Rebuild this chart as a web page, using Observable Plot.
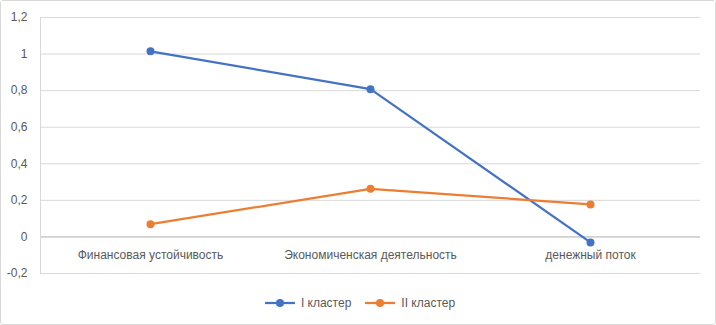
<!DOCTYPE html>
<html>
<head>
<meta charset="utf-8">
<script src="https://cdn.jsdelivr.net/npm/d3@7"></script>
<script src="https://cdn.jsdelivr.net/npm/@observablehq/plot@0.6"></script>
<style>
  html, body { margin: 0; padding: 0; background: #fff; }
  #chart {
    box-sizing: border-box; width: 716px; height: 325px;
    border: 1px solid #d9d9d9; border-radius: 3px; background: #fff;
    font-family: "Liberation Sans", Arial, sans-serif; color: #595959;
  }
  #legend {
    display: flex; justify-content: center; align-items: center;
    gap: 14px; font-size: 12px; color: #595959; height: 40px; margin-left: 4px;
  }
  #legend .item { display: flex; align-items: center; gap: 6px; }
</style>
</head>
<body>
<div id="chart"></div>
<script>
const categories = ["Финансовая устойчивость", "Экономиченская деятельность", "денежный поток"];
const seriesNames = ["I кластер", "II кластер"];
const cluster1 = [1.015, 0.808, -0.03];
const cluster2 = [0.07, 0.263, 0.178];
const colors = ["#4472C4", "#ED7D31"];
const yTicks = [-0.2, 0, 0.2, 0.4, 0.6, 0.8, 1, 1.2];

const data = [];
[cluster1, cluster2].forEach((vals, s) => {
  vals.forEach((v, i) => data.push({series: seriesNames[s], category: categories[i], value: v}));
});

const fmt = v => String(Math.round(v * 10) / 10).replace(".", ",");

const plot = Plot.plot({
  width: 714,
  height: 282,
  marginLeft: 39,
  marginRight: 15,
  marginTop: 16,
  marginBottom: 10,
  style: {fontFamily: "Liberation Sans, Arial, sans-serif", fontSize: "12px", color: "#595959", background: "#fff"},
  x: {type: "point", domain: categories, padding: 0.5, axis: null},
  y: {domain: [-0.2, 1.2], ticks: yTicks, tickFormat: fmt, tickSize: 0, tickPadding: 13, label: null},
  color: {domain: seriesNames, range: colors},
  marks: [
    Plot.gridY(yTicks, {stroke: "#d9d9d9", strokeOpacity: 1, strokeWidth: 1}),
    Plot.ruleY([0], {stroke: "#bfbfbf", strokeWidth: 1}),
    Plot.frame({anchor: "left", stroke: "#d9d9d9"}),
    Plot.axisY(yTicks, {tickFormat: fmt, tickSize: 0, tickPadding: 13, fill: "#595959", fontSize: 12, label: null}),
    Plot.text(categories, {x: d => d, y: () => 0, dy: 18, fill: "#595959", fontSize: 12}),
    Plot.line(data, {x: "category", y: "value", z: "series", stroke: "series", strokeWidth: 2.25}),
    Plot.dot(data, {x: "category", y: "value", fill: "series", r: 4})
  ]
});

const chart = document.getElementById("chart");
chart.appendChild(plot);

const legend = document.createElement("div");
legend.id = "legend";
seriesNames.forEach((name, i) => {
  const item = document.createElement("div");
  item.className = "item";
  item.innerHTML = `<svg width="30" height="10"><line x1="0" y1="5" x2="30" y2="5" stroke="${colors[i]}" stroke-width="2.25"/><circle cx="15" cy="5" r="4" fill="${colors[i]}"/></svg><span>${name}</span>`;
  legend.appendChild(item);
});
chart.appendChild(legend);
</script>
</body>
</html>
